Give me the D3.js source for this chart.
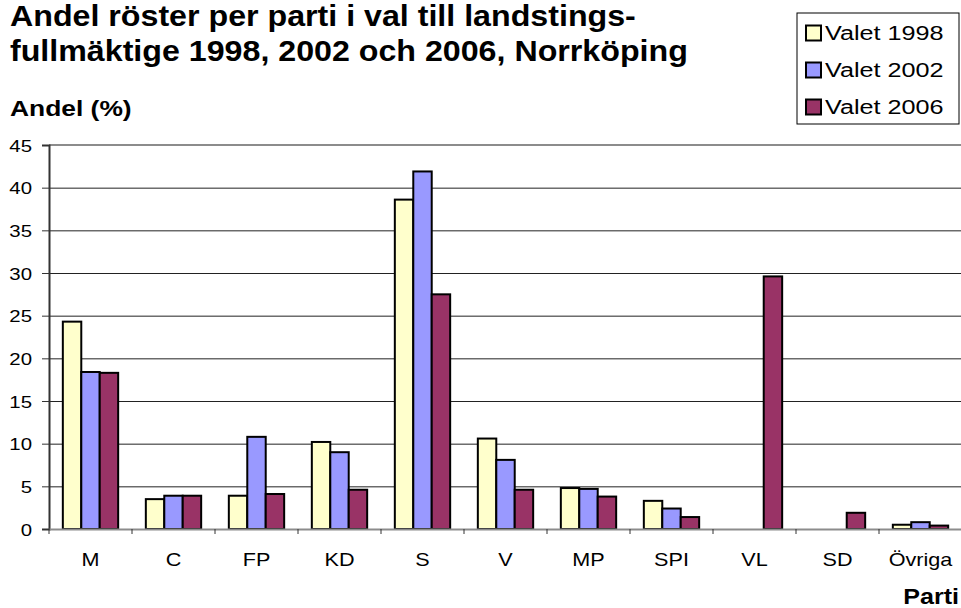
<!DOCTYPE html>
<html>
<head>
<meta charset="utf-8">
<script src="https://cdn.jsdelivr.net/npm/d3@7"></script>
<style>
  html, body { margin: 0; padding: 0; background: #fff; }
  svg { display: block; font-family: "Liberation Sans", Arial, sans-serif; }
</style>
</head>
<body>
<svg id="chart" width="961" height="608"></svg>
<script>
const categories = ["M", "C", "FP", "KD", "S", "V", "MP", "SPI", "VL", "SD", "Övriga"];
const seriesNames = ["Valet 1998", "Valet 2002", "Valet 2006"];
const valet1998 = [24.3, 3.5, 3.9, 10.2, 38.6, 10.6, 4.8, 3.3, null, null, 0.5];
const valet2002 = [18.4, 3.9, 10.8, 9.0, 41.9, 8.1, 4.7, 2.4, null, null, 0.8];
const valet2006 = [18.3, 3.9, 4.1, 4.6, 27.5, 4.6, 3.8, 1.4, 29.6, 1.9, 0.4];
const yTicks = [0, 5, 10, 15, 20, 25, 30, 35, 40, 45];
const titleLines = ["Andel röster per parti i val till landstings-", "fullmäktige 1998, 2002 och 2006, Norrköping"];
const yTitle = "Andel (%)";
const xTitle = "Parti";
const colors = ["#FFFFCC", "#9999FF", "#993366"];

const seriesValues = [valet1998, valet2002, valet2006];

const svg = d3.select("#chart");
svg.append("rect").attr("width", 961).attr("height", 608).attr("fill", "#fff");

const pLeft = 49, pRight = 962, pTop = 145, pBottom = 529;

const x0 = d3.scaleBand().domain(categories).range([pLeft, pRight]).padding(0);
const x1 = d3.scaleBand().domain(seriesNames).range([0, x0.bandwidth()]).paddingInner(0).paddingOuter(0.75);
const y = d3.scaleLinear().domain([0, 45]).range([pBottom, pTop]);

function stretchText(g, x, yy, txt, opts) {
  return g.append("text")
    .attr("transform", `translate(${x},${yy}) scale(${opts.sx},1)`)
    .attr("font-size", opts.size)
    .attr("font-weight", opts.bold ? "bold" : "normal")
    .attr("text-anchor", opts.anchor || "start")
    .attr("fill", "#000")
    .text(txt);
}

// gridlines
const grid = svg.append("g").attr("transform", `translate(${pLeft},0)`)
  .call(d3.axisLeft(y).tickValues(yTicks.filter(v => v > 0 && v < 45)).tickSize(-(pRight - pLeft)).tickFormat(""));
grid.select(".domain").remove();
grid.selectAll(".tick line").attr("stroke", "#222").attr("stroke-width", 1);

// top border (at 45)
svg.append("line").attr("x1", pLeft).attr("x2", pRight).attr("y1", y(45)).attr("y2", y(45))
  .attr("stroke", "#8c8c8c").attr("stroke-width", 2);

// bars
const groups = svg.append("g").selectAll("g").data(categories).join("g")
  .attr("transform", d => `translate(${x0(d)},0)`);
groups.selectAll("rect")
  .data((c, i) => seriesNames.map((s, j) => ({ s, j, v: seriesValues[j][i] })).filter(d => d.v !== null))
  .join("rect")
  .attr("x", d => x1(d.s))
  .attr("width", x1.bandwidth())
  .attr("y", d => y(d.v))
  .attr("height", d => y(0) - y(d.v))
  .attr("fill", d => colors[d.j])
  .attr("stroke", "#000")
  .attr("stroke-width", 2);

// y axis
const yAxis = svg.append("g").attr("transform", `translate(${pLeft},0)`)
  .call(d3.axisLeft(y).tickValues(yTicks).tickSize(7).tickFormat(d3.format("d")));
yAxis.select(".domain").attr("stroke", "#333").attr("stroke-width", 2);
yAxis.selectAll(".tick line").attr("stroke", "#333").attr("stroke-width", 1);
yAxis.selectAll(".tick text")
  .attr("x", 0).attr("dy", "0.36em")
  .attr("transform", "translate(-17,0) scale(1.2,1)")
  .attr("font-size", 17).attr("font-family", "Liberation Sans, Arial, sans-serif")
  .attr("fill", "#000").attr("text-anchor", "end");

// x axis
const xAxis = svg.append("g").attr("transform", `translate(0,${pBottom})`)
  .call(d3.axisBottom(x0).tickSize(0));
xAxis.select(".domain").attr("stroke", "#8c8c8c").attr("stroke-width", 2);
xAxis.selectAll(".tick text")
  .attr("y", 0).attr("dy", 0)
  .attr("transform", "translate(0,37) scale(1.2,1)")
  .attr("font-size", 18).attr("font-family", "Liberation Sans, Arial, sans-serif")
  .attr("fill", "#000");
const bounds = categories.map(c => x0(c)).concat([x0(categories[categories.length - 1]) + x0.bandwidth()]);
svg.append("g").selectAll("line").data(bounds).join("line")
  .attr("x1", d => d).attr("x2", d => d)
  .attr("y1", pBottom).attr("y2", pBottom + 5)
  .attr("stroke", "#333").attr("stroke-width", 1);

// title
const tg = svg.append("g");
titleLines.forEach((line, i) => stretchText(tg, 10, 26 + i * 35, line, { size: 29, bold: true, sx: 1.11 }));

// axis titles
stretchText(svg, 10, 116, yTitle, { size: 22, bold: true, sx: 1.2 });
stretchText(svg, 959, 604, xTitle, { size: 22, bold: true, sx: 1.14, anchor: "end" });

// legend
const lg = svg.append("g");
lg.append("rect").attr("x", 797).attr("y", 13).attr("width", 162).attr("height", 111)
  .attr("fill", "#fff").attr("stroke", "#000").attr("stroke-width", 1);
seriesNames.forEach((s, i) => {
  const cy = 33 + i * 37;
  lg.append("rect").attr("x", 806).attr("y", cy - 7.5).attr("width", 15).attr("height", 15)
    .attr("fill", colors[i]).attr("stroke", "#000").attr("stroke-width", 2);
  stretchText(lg, 825, cy + 7, s, { size: 21, sx: 1.2 });
});
</script>
</body>
</html>
